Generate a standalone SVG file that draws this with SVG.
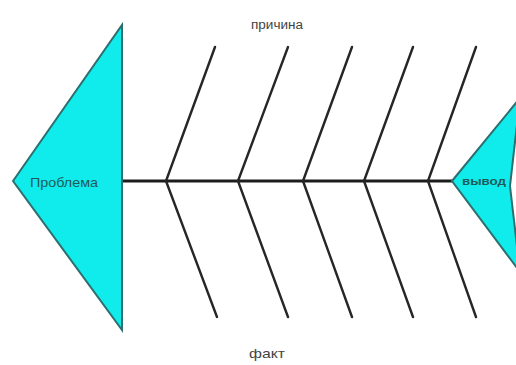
<svg xmlns="http://www.w3.org/2000/svg" width="516" height="365" viewBox="0 0 516 365">
<style>
.shape{fill:#10ecec;stroke:#2b6f6f;stroke-width:2;stroke-linejoin:miter}
.bone{stroke:#262626;stroke-width:2.4;stroke-linecap:round;fill:none}
.spine{stroke:#1c1c1c;stroke-width:3;fill:none}
.lbl{font-family:"Liberation Sans",Arial,sans-serif;fill:#1f5a5a;text-anchor:start}
.cap{font-family:"Liberation Sans",Arial,sans-serif;fill:#444;text-anchor:start}
</style>
<rect width="516" height="365" fill="#ffffff"/>
<g id="connectors">
<line class="spine" x1="123" y1="181" x2="452" y2="181"/>
<line class="bone" x1="166" y1="181" x2="215" y2="47"/>
<line class="bone" x1="238" y1="181" x2="288" y2="47"/>
<line class="bone" x1="303" y1="181" x2="352" y2="47"/>
<line class="bone" x1="364" y1="181" x2="413" y2="47"/>
<line class="bone" x1="428" y1="181" x2="476" y2="47"/>
<line class="bone" x1="166" y1="181" x2="217" y2="317"/>
<line class="bone" x1="238" y1="181" x2="288" y2="317"/>
<line class="bone" x1="303" y1="181" x2="352" y2="317"/>
<line class="bone" x1="364" y1="181" x2="413" y2="317"/>
<line class="bone" x1="428" y1="181" x2="476" y2="317"/>
</g>
<g id="problem">
<polygon class="shape" points="13,181 122,25 122,330"/>
<text class="lbl" x="30" y="187" font-size="13" textLength="68" lengthAdjust="spacingAndGlyphs">Проблема</text>
</g>
<g id="conclusion">
<polygon class="shape" points="452,181 520,98 510,186 520,272"/>
<text class="lbl" x="462" y="185" font-size="10" font-weight="bold" textLength="44" lengthAdjust="spacingAndGlyphs">вывод</text>
</g>
<g id="cause-label">
<text class="cap" x="251" y="29" font-size="12" textLength="52" lengthAdjust="spacingAndGlyphs">причина</text>
</g>
<g id="fact-label">
<text class="cap" x="249" y="358" font-size="13" textLength="36" lengthAdjust="spacingAndGlyphs">факт</text>
</g>
</svg>
